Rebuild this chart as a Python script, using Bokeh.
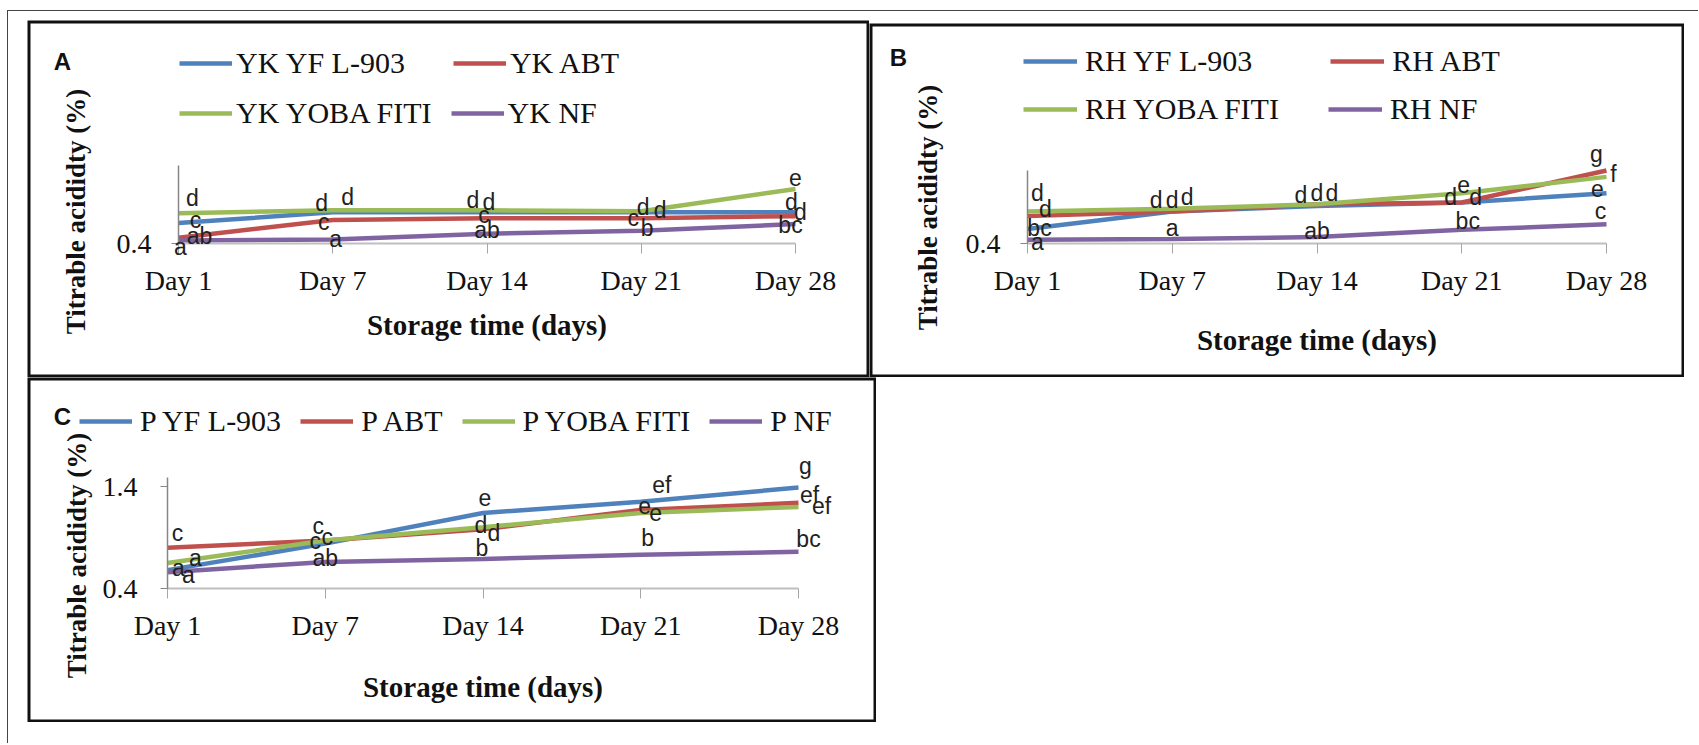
import math
from bokeh.plotting import figure
from bokeh.models import (ColumnDataSource, LabelSet, Label, Legend, LegendItem,
                          FixedTicker, Range1d, Spacer, LinearAxis)
from bokeh.layouts import column, row
from bokeh.core.properties import value
from bokeh.embed import file_html
from bokeh.resources import INLINE

# ---------------- data ----------------
days = ["Day 1", "Day 7", "Day 14", "Day 21", "Day 28"]

# Panel A
a_names = ["YK YF L-903", "YK ABT", "YK YOBA FITI", "YK NF"]
a_yf = [0.61, 0.72, 0.72, 0.72, 0.72]
a_abt = [0.46, 0.64, 0.66, 0.66, 0.68]
a_yoba = [0.71, 0.74, 0.74, 0.73, 0.96]
a_nf = [0.43, 0.44, 0.50, 0.53, 0.60]
a_let_yf = ["c", "d", "d", "d", "d"]
a_let_abt = ["ab", "c", "c", "c", "d"]
a_let_yoba = ["d", "d", "d", "d", "e"]
a_let_nf = ["a", "a", "ab", "b", "bc"]

# Panel B
b_names = ["RH YF L-903", "RH ABT", "RH YOBA FITI", "RH NF"]
b_yf = [0.56, 0.75, 0.81, 0.85, 0.95]
b_abt = [0.70, 0.75, 0.83, 0.85, 1.20]
b_yoba = [0.75, 0.78, 0.83, 0.95, 1.13]
b_nf = [0.44, 0.45, 0.47, 0.55, 0.61]
b_let_yf = ["bc", "d", "d", "d", "e"]
b_let_abt = ["d", "d", "d", "d", "g"]
b_let_yoba = ["d", "d", "d", "e", "f"]
b_let_nf = ["a", "a", "ab", "bc", "c"]

# Panel C
c_names = ["P YF L-903", "P ABT", "P YOBA FITI", "P NF"]
c_yf = [0.58, 0.84, 1.14, 1.25, 1.39]
c_abt = [0.80, 0.87, 0.98, 1.17, 1.24]
c_yoba = [0.65, 0.87, 1.00, 1.14, 1.20]
c_nf = [0.56, 0.66, 0.69, 0.73, 0.76]
c_let_yf = ["a", "c", "e", "ef", "g"]
c_let_abt = ["c", "c", "d", "e", "ef"]
c_let_yoba = ["a", "c", "d", "e", "ef"]
c_let_nf = ["a", "ab", "b", "b", "bc"]

y_label = "Titrable acididty (%)"
x_label = "Storage time (days)"

# ---------------- styles / placement (pixels) ----------------
COLORS = ["#4F81BD", "#C0504D", "#9BBB59", "#8064A2"]
SERIF = "Liberation Serif"

# letter offsets (dx, dy up) per series per day
a_off = [
    [(17, 3), (-11, 9), (2, 10), (19, 2), (-4, 10)],
    [(21, 2), (-9, -2), (-3, 3), (-8, 0), (5, 4)],
    [(14, 15), (15, 13), (-14, 10), (2, 4), (0, 11)],
    [(2, -6), (3, 1), (0, 4), (6, 3), (-5, -1)],
]
b_off = [
    [(12, 1), (-16, 12), (-16, 11), (-11, 5), (-9, 5)],
    [(18, 7), (0, 12), (0, 11), (14, 5), (-10, 17)],
    [(10, 19), (15, 12), (15, 11), (2, 9), (7, 3)],
    [(10, -2), (0, 11), (0, 6), (6, 9), (-6, 13)],
]
c_off = [
    [(11, 2), (-10, 3), (2, 16), (21, 17), (7, 22)],
    [(10, 15), (-7, 15), (11, -4), (4, 4), (11, 8)],
    [(28, 5), (2, 4), (-2, 2), (15, 1), (23, 1)],
    [(21, -3), (0, 4), (-1, 11), (7, 17), (10, 13)],
]


def make_panel(cfg):
    W, H = cfg["W"], cfg["H"]
    bx, by = cfg["box"]
    n = len(days)
    d1, dn = cfg["xpx"]
    ylo, yhi = cfg["yvals"]
    ylo_px, yhi_px = cfg["ypx"]
    ppx = (dn - d1) / (n - 1)
    ppy = (ylo_px - yhi_px) / (yhi - ylo)
    x0 = -(d1 - bx) / ppx
    x1 = (n - 1) + (bx + W - dn) / ppx
    y1 = yhi + (yhi_px - by) / ppy
    y0 = ylo - (by + H - ylo_px) / ppy

    p = figure(width=W, height=H, x_range=Range1d(x0, x1), y_range=Range1d(y0, y1),
               output_backend="svg", toolbar_location=None,
               x_axis_location=None, y_axis_location=None,
               min_border=0, min_border_left=0, min_border_right=0,
               min_border_top=0, min_border_bottom=0)
    p.grid.visible = False
    p.outline_line_color = None
    p.background_fill_color = "white"
    p.border_fill_color = "white"

    # panel frame (box)
    p.quad(left=[x0], right=[x1], bottom=[y0], top=[y1], fill_color=None,
           line_color="#111111", line_width=6)

    xs = list(range(n))
    series = cfg["series"]
    renderers = []
    for vals, col in zip(series, COLORS):
        r = p.line(xs, vals, line_color=col, line_width=4.5)
        renderers.append(r)

    # x axis
    xa = LinearAxis(fixed_location=ylo, bounds=(0, n - 1))
    xa.ticker = FixedTicker(ticks=xs)
    xa.major_label_overrides = {i: d for i, d in enumerate(days)}
    xa.axis_line_color = "#BFBFBF"
    xa.axis_line_width = 2
    xa.major_tick_in = 0
    xa.major_tick_out = 10
    xa.major_tick_line_color = "#A6A6A6"
    xa.minor_tick_line_color = None
    xa.major_label_text_font = SERIF
    xa.major_label_text_font_size = "28px"
    xa.major_label_text_color = "#111"
    xa.major_label_standoff = 11
    xa.axis_label = x_label
    xa.axis_label_text_font = SERIF
    xa.axis_label_text_font_style = "bold"
    xa.axis_label_text_font_size = "29px"
    xa.axis_label_text_color = "#111"
    xa.axis_label_standoff = cfg["xlab_standoff"]
    p.add_layout(xa, "below")

    # y axis
    ya = LinearAxis(fixed_location=0, bounds=(ylo, cfg["ytop"]))
    ya.ticker = FixedTicker(ticks=cfg["yticks"])
    ya.axis_line_color = "#868686"
    ya.axis_line_width = 1.5
    ya.major_tick_in = 0
    ya.major_tick_out = 7
    ya.major_tick_line_color = "#868686"
    ya.minor_tick_line_color = None
    ya.major_label_text_font = SERIF
    ya.major_label_text_font_size = "28px"
    ya.major_label_text_color = "#111"
    ya.major_label_standoff = cfg["ytick_standoff"]
    p.add_layout(ya, "left")

    # y title
    tx_, ty_ = cfg["ytitle_pos"]
    p.add_layout(Label(x=tx_, y=ty_, x_units="screen", y_units="screen",
                       text=y_label, angle=math.pi / 2, text_font=SERIF,
                       text_font_style="bold", text_font_size="27px",
                       text_color="#111", text_align="center",
                       text_baseline="middle"))

    # legends
    names = cfg["names"]
    for leg in cfg["legends"]:
        items = [LegendItem(label=names[i], renderers=[renderers[i]]) for i in leg["idx"]]
        lg = Legend(items=items, location=leg["loc"], orientation="horizontal",
                    spacing=leg["spacing"], padding=0, margin=0,
                    glyph_width=leg["gw"], glyph_height=20,
                    label_standoff=leg["standoff"],
                    label_text_font=SERIF, label_text_font_size="30px",
                    label_text_color="#111",
                    border_line_color=None, background_fill_alpha=0)
        p.add_layout(lg)

    # significance letters
    tx, ty, tt, dx, dy = [], [], [], [], []
    for vals, lets, offs in zip(series, cfg["letters"], cfg["offsets"]):
        for i in xs:
            tx.append(i)
            ty.append(vals[i])
            tt.append(lets[i])
            dx.append(offs[i][0])
            dy.append(offs[i][1])
    src = ColumnDataSource(dict(x=tx, y=ty, text=tt, dx=dx, dy=dy))
    ls = LabelSet(x="x", y="y", text="text", x_offset="dx", y_offset="dy",
                  source=src, text_font=value("Liberation Sans"),
                  text_font_size=value("23px"), text_color="#222",
                  text_align="center", text_baseline="middle")
    p.add_layout(ls)

    # panel letter
    lx, ly = cfg["letter_pos"]
    p.add_layout(Label(x=lx, y=ly, x_units="screen", y_units="screen",
                       text=cfg["letter"], text_font="Liberation Sans",
                       text_font_style="bold", text_font_size="24px",
                       text_color="#111", text_align="center",
                       text_baseline="middle"))
    return p


pa = make_panel(dict(
    box=(27, 20), W=842, H=357, xpx=(178, 795), yvals=(0.4, 1.2), ypx=(243, 165),
    ytop=1.2, yticks=[0.4],
    series=[a_yf, a_abt, a_yoba, a_nf], names=a_names,
    letters=[a_let_yf, a_let_abt, a_let_yoba, a_let_nf], offsets=a_off,
    xlab_standoff=10, ytick_standoff=20, ytitle_pos=(48, 166),
    legends=[dict(idx=[0, 1], loc=(152, 297), spacing=48, gw=53, standoff=4),
             dict(idx=[2, 3], loc=(152, 247), spacing=19, gw=53, standoff=4)],
    letter="A", letter_pos=(35, 316)))

pb = make_panel(dict(
    box=(869, 23), W=815, H=354, xpx=(1027, 1606), yvals=(0.4, 1.2), ypx=(243, 170),
    ytop=1.2, yticks=[0.4],
    series=[b_yf, b_abt, b_yoba, b_nf], names=b_names,
    letters=[b_let_yf, b_let_abt, b_let_yoba, b_let_nf], offsets=b_off,
    xlab_standoff=25, ytick_standoff=20, ytitle_pos=(58, 170),
    legends=[dict(idx=[0, 1], loc=(154, 299), spacing=78, gw=54, standoff=8),
             dict(idx=[2, 3], loc=(154, 251), spacing=49, gw=54, standoff=8)],
    letter="B", letter_pos=(29, 320)))

pc = make_panel(dict(
    box=(27, 377), W=849, H=345, xpx=(167, 798), yvals=(0.4, 1.4), ypx=(588, 486),
    ytop=1.488, yticks=[0.4, 1.4],
    series=[c_yf, c_abt, c_yoba, c_nf], names=c_names,
    letters=[c_let_yf, c_let_abt, c_let_yoba, c_let_nf], offsets=c_off,
    xlab_standoff=27, ytick_standoff=23, ytitle_pos=(49, 167),
    legends=[dict(idx=[0, 1, 2, 3], loc=(52, 284), spacing=19, gw=53, standoff=8)],
    letter="C", letter_pos=(35, 306)))

# page placement: outer thin frame at (7, 10); panels inside it
inner = column(
    Spacer(height=9),
    row(Spacer(width=19), pa, column(Spacer(height=3), pb), Spacer(width=14)),
    row(Spacer(width=19), pc),
    Spacer(height=21),
    styles={"border-top": "1px solid #444", "border-left": "1px solid #444"},
)
root = column(Spacer(height=10), row(Spacer(width=7), inner))

open("out.html", "w").write(file_html(root, INLINE))
